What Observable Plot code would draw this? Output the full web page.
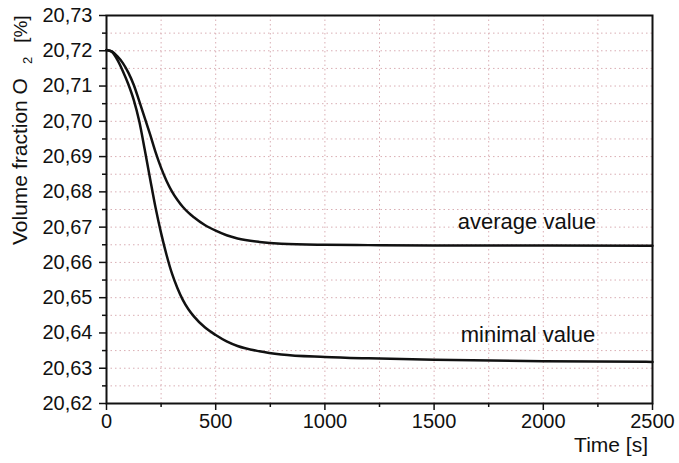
<!DOCTYPE html>
<html><head><meta charset="utf-8">
<script src="https://cdn.jsdelivr.net/npm/d3@7"></script>
<script src="https://cdn.jsdelivr.net/npm/@observablehq/plot@0.6"></script>
<style>html,body{margin:0;padding:0;background:#fff;overflow:hidden}</style>
</head><body><div id="chart"></div>
<script>
const time = [0, 25, 50, 75, 100, 125, 150, 175, 200, 225, 250, 275, 300, 325, 350, 375, 400, 450, 500, 550, 600, 700, 800, 1000, 1200, 1500, 2000, 2500];
const averageValue = [20.7202, 20.7198, 20.7184, 20.7165, 20.7138, 20.7103, 20.7057, 20.7010, 20.6962, 20.6912, 20.6868, 20.6831, 20.6801, 20.6777, 20.6757, 20.6741, 20.6728, 20.6706, 20.6690, 20.6677, 20.6668, 20.6658, 20.6653, 20.6650, 20.6649, 20.6648, 20.6648, 20.6647];
const minimalValue = [20.7202, 20.7197, 20.7174, 20.7142, 20.7105, 20.7060, 20.7000, 20.6920, 20.6836, 20.6754, 20.6683, 20.6621, 20.6568, 20.6527, 20.6493, 20.6467, 20.6447, 20.6416, 20.6394, 20.6376, 20.6363, 20.6348, 20.6339, 20.6332, 20.6328, 20.6324, 20.6320, 20.6318];
const xTicks = [0, 500, 1000, 1500, 2000, 2500];
const xMinorTicks = [250, 750, 1250, 1750, 2250];
const yTicks = [20.62, 20.63, 20.64, 20.65, 20.66, 20.67, 20.68, 20.69, 20.70, 20.71, 20.72, 20.73];
const yMinorTicks = [20.625, 20.635, 20.645, 20.655, 20.665, 20.675, 20.685, 20.695, 20.705, 20.715, 20.725];
const labels = ["average value", "minimal value"];
const labelTime = [1925, 1930];
const labelValue = [20.6716, 20.6393];
const xLabel = "Time [s]";
const yLabelMain = "Volume fraction O";
const yLabelSub = "2";
const yLabelUnit = "[%]";

const avgData = time.map((t, i) => ({t, v: averageValue[i]}));
const minData = time.map((t, i) => ({t, v: minimalValue[i]}));
const labelData = labels.map((s, i) => ({s, t: labelTime[i], v: labelValue[i]}));
const gridX = [...xTicks, ...xMinorTicks].filter(d => d > 0 && d < 2500);
const gridY = [...yTicks, ...yMinorTicks].filter(d => d > 20.62 && d < 20.73);
const fmtY = d => d.toFixed(2).replace(".", ",");
const fmtX = d => String(d);

const chart = Plot.plot({
  width: 679, height: 463,
  marginLeft: 106, marginRight: 27, marginTop: 15, marginBottom: 60,
  style: {fontFamily: "'Liberation Sans', Arial, sans-serif", fontSize: "20px", color: "#111", background: "#fff", overflow: "visible"},
  x: {domain: [0, 2500]},
  y: {domain: [20.62, 20.73]},
  marks: [
    Plot.ruleX(gridX, {x: d => d, stroke: "#d9aeb4", strokeWidth: 1, strokeDasharray: "1.5,3"}),
    Plot.ruleY(gridY, {y: d => d, stroke: "#d9aeb4", strokeWidth: 1, strokeDasharray: "1.5,3"}),
    Plot.axisY({ticks: yMinorTicks, tickSize: 4, tickFormat: () => "", stroke: "#111", strokeWidth: 1.5, label: null}),
    Plot.axisX({ticks: xMinorTicks, tickSize: 4, tickFormat: () => "", stroke: "#111", strokeWidth: 1.5, label: null}),
    Plot.axisY({ticks: yTicks, tickSize: 7, tickPadding: 7, tickFormat: fmtY, stroke: "#111", strokeWidth: 1.5, fontSize: 20, label: null}),
    Plot.axisX({ticks: xTicks, tickSize: 7, tickPadding: 3, tickFormat: fmtX, stroke: "#111", strokeWidth: 1.5, fontSize: 20, label: null}),
    Plot.frame({stroke: "#111", strokeWidth: 2}),
    Plot.line(avgData, {x: "t", y: "v", stroke: "#111", strokeWidth: 2.5, curve: "monotone-x"}),
    Plot.line(minData, {x: "t", y: "v", stroke: "#111", strokeWidth: 2.5, curve: "monotone-x"}),
    Plot.text(labelData, {x: "t", y: "v", text: "s", fontSize: 22, fill: "#111", textAnchor: "middle"})
  ]
});
document.getElementById("chart").appendChild(chart);

const svg = d3.select(chart);
svg.append("text")
  .attr("x", 648).attr("y", 452)
  .attr("text-anchor", "end")
  .attr("font-size", 21).attr("fill", "#111")
  .text(xLabel);
const yl = svg.append("text")
  .attr("transform", "translate(27,245) rotate(-90)")
  .attr("text-anchor", "start")
  .attr("font-size", 21).attr("fill", "#111");
yl.append("tspan").text(yLabelMain);
yl.append("tspan").attr("dx", 14).attr("dy", 5).attr("font-size", 13).text(yLabelSub);
yl.append("tspan").attr("dx", 14).attr("dy", -5).attr("font-size", 19).text(yLabelUnit);
</script>
</body></html>
